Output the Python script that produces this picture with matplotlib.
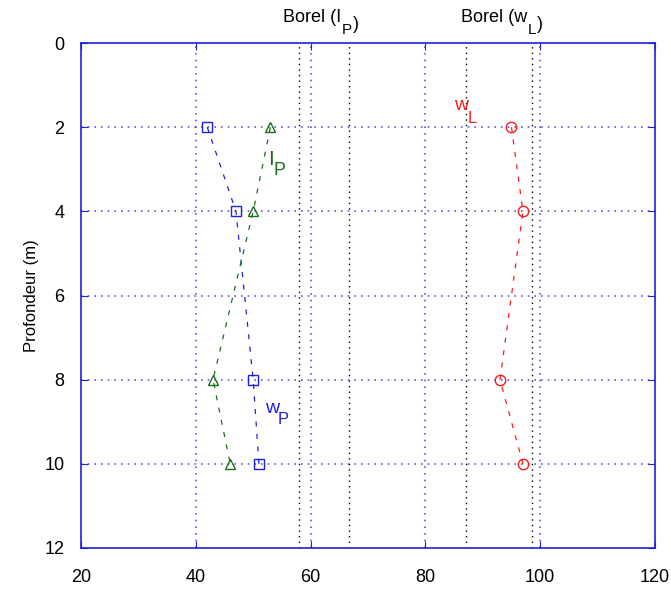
import matplotlib
matplotlib.use("Agg")
import matplotlib.pyplot as plt

# depth (m)
depth = [2, 4, 8, 10]
# water content at plastic limit, plasticity index, liquid limit
wP = [42, 47, 50, 51]
IP = [53, 50, 43, 46]
wL = [95, 97, 93, 97]

# Borel reference ranges
borel_IP = [58, 66.7]
borel_wL = [87, 98.5]

plt.rcParams['font.family'] = ['Liberation Sans', 'DejaVu Sans']

fig = plt.figure(figsize=(6.71, 5.9), dpi=100)
ax = fig.add_axes([0.1207, 0.0712, 0.8554, 0.8559])

blue = '#1f1fe0'
green = '#1a6e1a'
red = '#ff1a1a'

# grid
for x in [40, 60, 80, 100]:
    ax.axvline(x, color='#3030e0', ls=(0, (1, 3)), lw=1.2, alpha=0.8, zorder=1)
for y in [2, 4, 6, 8, 10]:
    ax.axhline(y, color='#3030e0', ls=(0, (1, 3)), lw=1.2, alpha=0.8, zorder=1)
for x in borel_IP + borel_wL:
    ax.axvline(x, color='black', ls=(0, (1, 3)), lw=1.0, zorder=1)

ax.plot(wP, depth, ls=(0, (4, 6)), lw=0.9, color=blue, marker='s', ms=7.5,
        mfc='none', mec=blue, mew=1.0, zorder=3)
ax.plot(IP, depth, ls=(0, (4, 6)), lw=0.9, color=green, marker='^', ms=7.5,
        mfc='none', mec=green, mew=1.0, zorder=3)
ax.plot(wL, depth, ls=(0, (4, 6)), lw=0.9, color=red, marker='o', ms=7.5,
        mfc='none', mec=red, mew=1.0, zorder=3)


def sublabel(x, y, main, sub, color, size, drop):
    # main text then a dropped subscript right after it
    t = ax.annotate(main, (x, y), color=color, fontsize=size, ha='left', va='baseline',
                    annotation_clip=False)
    ax.annotate(sub, xy=(1.0, 0.0), xycoords=t, xytext=(-0.5, -drop),
                textcoords='offset points', color=color, fontsize=size * 0.85,
                ha='left', va='baseline', annotation_clip=False)
    return t


sublabel(85.0, 1.6, 'w', 'L', red, 14, 6)
sublabel(52.6, 2.9, 'I', 'P', green, 15, 4)
sublabel(52.0, 8.8, 'w', 'P', blue, 14, 5)

t1 = ax.annotate('Borel (I', (55.2, -0.5), fontsize=13, ha='left', va='baseline',
                 annotation_clip=False)
t2 = ax.annotate('P', xy=(1.0, 0.0), xycoords=t1, xytext=(0.5, -6), textcoords='offset points',
                 fontsize=11, ha='left', va='baseline', annotation_clip=False)
ax.annotate(')', xy=(1.0, 0.0), xycoords=t2, xytext=(0.5, 6), textcoords='offset points',
            fontsize=13, ha='left', va='baseline', annotation_clip=False)
t3 = ax.annotate('Borel (w', (86.2, -0.5), fontsize=13, ha='left', va='baseline',
                 annotation_clip=False)
t4 = ax.annotate('L', xy=(1.0, 0.0), xycoords=t3, xytext=(0.5, -6), textcoords='offset points',
                 fontsize=11, ha='left', va='baseline', annotation_clip=False)
ax.annotate(')', xy=(1.0, 0.0), xycoords=t4, xytext=(0.5, 6), textcoords='offset points',
            fontsize=13, ha='left', va='baseline', annotation_clip=False)

ax.set_xlim(20, 120)
ax.set_ylim(12, 0)
ax.set_xticks([20, 40, 60, 80, 100, 120])
ax.set_yticks([0, 2, 4, 6, 8, 10, 12])
ax.tick_params(axis='both', direction='in', length=5, color=blue, labelsize=13,
               top=True, right=True)
ax.tick_params(axis='x', pad=15)
ax.tick_params(axis='y', pad=12)
for s in ax.spines.values():
    s.set_color(blue)
    s.set_linewidth(1.2)
ax.set_ylabel('Profondeur (m)', fontsize=12, labelpad=4)

fig.savefig('out.png', dpi=100)
